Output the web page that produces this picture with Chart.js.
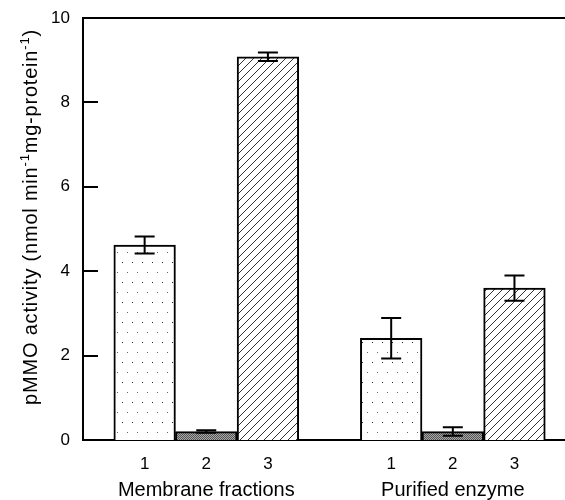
<!DOCTYPE html>
<html>
<head>
<meta charset="utf-8">
<script src="https://cdn.jsdelivr.net/npm/chart.js@4.4.1/dist/chart.umd.min.js"></script>
<style>
  html, body { margin: 0; padding: 0; background: #fff; }
  #wrap { width: 565px; height: 500px; position: relative; }
</style>
</head>
<body>
<div id="wrap"><canvas id="c"></canvas></div>
<script>
// ---- data ----
const groupLabels = ['Membrane fractions', 'Purified enzyme'];
const sampleLabels = ['1', '2', '3'];
const membraneActivity = [4.62, 0.2, 9.08];
const membraneError = [0.2, 0.03, 0.1];
const purifiedActivity = [2.41, 0.2, 3.6];
const purifiedError = [0.48, 0.1, 0.3];
const yTicks = [0, 2, 4, 6, 8, 10];
const yTitleParts = [
  ['pMMO activity (nmol min', false],
  ['-1', true],
  ['mg-protein', false],
  ['-1', true],
  [')', false]
];

const FONT = "'Liberation Sans', Arial, Helvetica, sans-serif";

// ---- patterns ----
function makePattern(w, h, draw) {
  const c = document.createElement('canvas');
  c.width = w; c.height = h;
  const g = c.getContext('2d');
  draw(g);
  return g.createPattern(c, 'repeat');
}
const dotPattern = makePattern(10, 20, g => {
  g.fillStyle = '#fff'; g.fillRect(0, 0, 10, 20);
  g.fillStyle = '#222'; g.fillRect(2, 2, 1, 1);
  g.fillStyle = '#666'; g.fillRect(7, 12, 1, 1);
});
const greyPattern = makePattern(2, 2, g => {
  g.fillStyle = '#a8a8a8'; g.fillRect(0, 0, 2, 2);
  g.fillStyle = '#555'; g.fillRect(0, 0, 1, 1); g.fillRect(1, 1, 1, 1);
});
const hatchPattern = makePattern(8, 8, g => {
  g.fillStyle = '#fff'; g.fillRect(0, 0, 8, 8);
  g.fillStyle = '#333';
  for (let i = 0; i < 8; i++) g.fillRect(i, 7 - i, 1, 1);
});
const samplePatterns = [dotPattern, greyPattern, hatchPattern];

// ---- build library data from arrays ----
const groupsData = [
  { act: membraneActivity, err: membraneError },
  { act: purifiedActivity, err: purifiedError }
];
const points = [], errs = [], fills = [], tickPos = [], tickText = {};
groupsData.forEach((gd, gi) => {
  sampleLabels.forEach((s, si) => {
    const x = gi * 4 + si + 1;
    points.push({ x: x, y: gd.act[si] });
    errs.push(gd.err[si]);
    fills.push(samplePatterns[si]);
    tickPos.push(x);
    tickText[x] = s;
  });
});

const decorPlugin = {
  id: 'decor',
  afterDatasetsDraw(chart) {
    const ctx = chart.ctx;
    const ys = chart.scales.y, xs = chart.scales.x;
    const ca = chart.chartArea;
    ctx.save();
    ctx.strokeStyle = '#000';
    ctx.lineWidth = 2;
    // top frame line
    ctx.beginPath();
    ctx.moveTo(ca.left - 1, ys.getPixelForValue(10));
    ctx.lineTo(ca.right, ys.getPixelForValue(10));
    ctx.stroke();
    // inward y ticks
    yTicks.forEach(v => {
      if (v === 0 || v === 10) return;
      const py = Math.round(ys.getPixelForValue(v));
      ctx.beginPath();
      ctx.moveTo(ca.left, py);
      ctx.lineTo(ca.left + 15, py);
      ctx.stroke();
    });
    // error bars
    const meta = chart.getDatasetMeta(0);
    meta.data.forEach((el, i) => {
      const v = points[i].y, e = errs[i];
      const yt = ys.getPixelForValue(v + e), yb = ys.getPixelForValue(v - e);
      const x = el.x;
      ctx.beginPath();
      ctx.moveTo(x, yt); ctx.lineTo(x, yb);
      ctx.moveTo(x - 10, yt); ctx.lineTo(x + 10, yt);
      ctx.moveTo(x - 10, yb); ctx.lineTo(x + 10, yb);
      ctx.stroke();
    });
    // group labels
    ctx.fillStyle = '#000';
    ctx.font = '20px ' + FONT;
    ctx.textAlign = 'center';
    ctx.textBaseline = 'middle';
    groupLabels.forEach((g, gi) => {
      ctx.fillText(g, xs.getPixelForValue(gi * 4 + 2), 490);
    });
    // y title with superscripts
    const big = '20px ' + FONT, small = '13px ' + FONT;
    ctx.letterSpacing = '0.8px';
    let total = 0;
    yTitleParts.forEach(([t, sup]) => { ctx.font = sup ? small : big; total += ctx.measureText(t).width; });
    ctx.translate(37, 217);
    ctx.rotate(-Math.PI / 2);
    ctx.textAlign = 'left';
    ctx.textBaseline = 'alphabetic';
    let cx = -total / 2;
    yTitleParts.forEach(([t, sup]) => {
      ctx.font = sup ? small : big;
      ctx.fillText(t, cx, sup ? -8 : 0);
      cx += ctx.measureText(t).width;
    });
    ctx.restore();
  }
};

new Chart(document.getElementById('c'), {
  type: 'bar',
  data: {
    datasets: [{
      data: points,
      backgroundColor: fills,
      borderColor: '#000',
      borderWidth: 2,
      borderSkipped: 'start',
      barPercentage: 1,
      categoryPercentage: 1
    }]
  },
  options: {
    responsive: true,
    maintainAspectRatio: false,
    devicePixelRatio: 1,
    animation: false,
    layout: { padding: { top: 18, right: 0, left: 0, bottom: 0 } },
    plugins: { legend: { display: false }, tooltip: { enabled: false }, title: { display: false } },
    scales: {
      x: {
        type: 'linear',
        min: 0,
        max: 7.82,
        offset: false,
        grid: { display: false, drawTicks: false, offset: false },
        border: { display: true, color: '#000', width: 2 },
        afterBuildTicks: s => { s.ticks = tickPos.map(v => ({ value: v })); },
        afterFit: s => { s.height = 60; s.paddingLeft = 0; s.paddingRight = 0; },
        ticks: {
          autoSkip: false,
          maxRotation: 0,
          padding: 14,
          color: '#000',
          font: { family: FONT, size: 17 },
          callback: v => tickText[v] || ''
        }
      },
      y: {
        min: 0,
        max: 10,
        grid: { display: false, drawTicks: false },
        border: { display: true, color: '#000', width: 2 },
        afterBuildTicks: s => { s.ticks = yTicks.map(v => ({ value: v })); },
        afterFit: s => { s.width = 83; s.paddingTop = 0; s.paddingBottom = 0; },
        ticks: {
          padding: 13,
          color: '#000',
          font: { family: FONT, size: 17 }
        }
      }
    }
  },
  plugins: [decorPlugin]
});
</script>
</body>
</html>
